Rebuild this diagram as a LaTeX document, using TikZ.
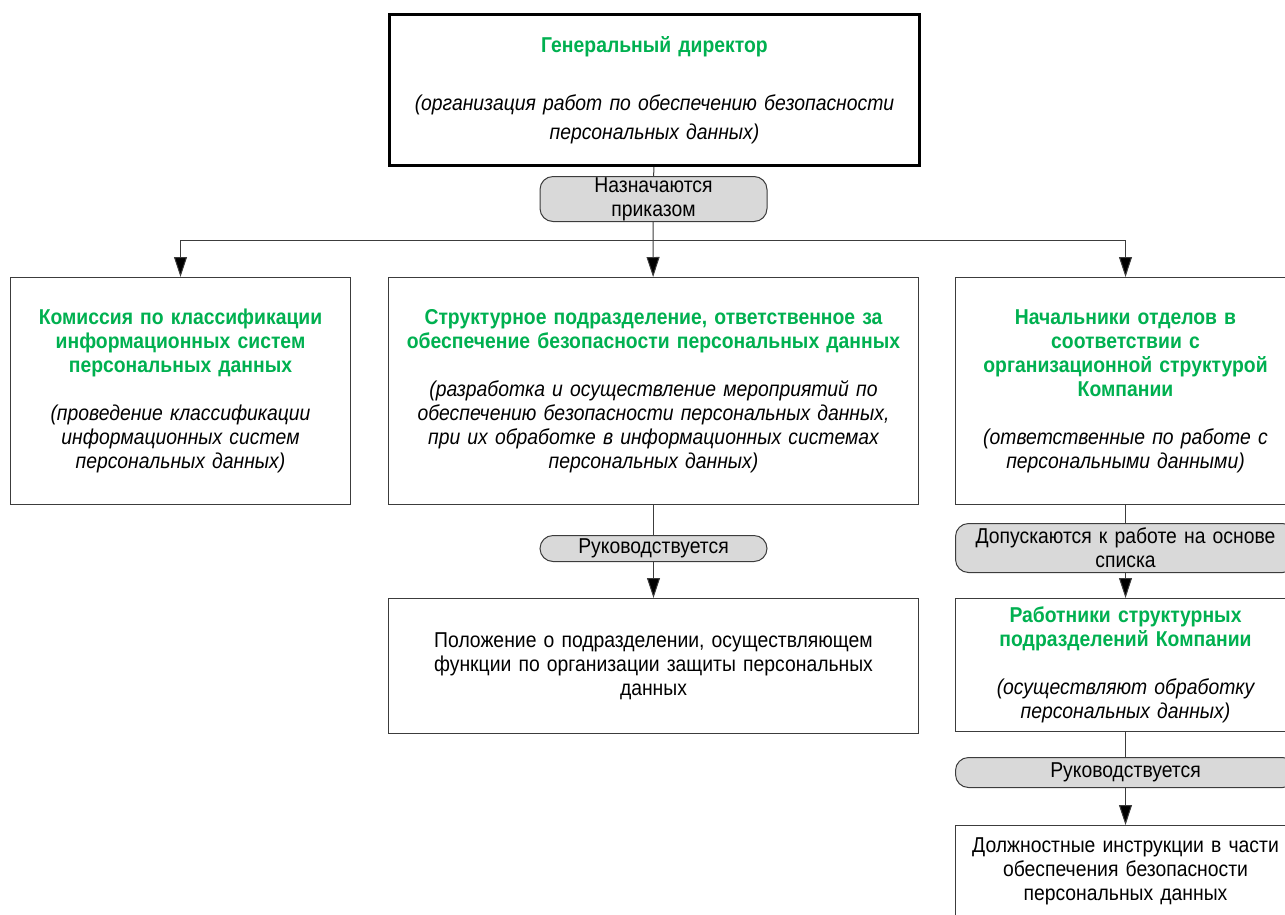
\documentclass[tikz,border=0pt]{standalone}
\usepackage{fontspec}
\setmainfont{Liberation Sans}[FakeStretch=0.9]
\usetikzlibrary{arrows.meta}

\newcommand*\lineheight{24pt}
\newcommand*\topheight{29pt}
\definecolor{headgreen}{RGB}{0,176,80}
\definecolor{pillgray}{RGB}{217,217,217}
\definecolor{framegray}{RGB}{60,60,60}
\newcommand*\head[1]{{\color{headgreen}\bfseries #1}}
\tikzset{unit/.style 2 args={
    draw=framegray,
    line width=1pt,
    rectangle,
    anchor=north west,
    inner xsep=4pt,
    inner ysep=0pt,
    text width={#1-8pt},
    minimum height=#2,
    align=center,
    font=\fontsize{21.5}{\lineheight}\selectfont
}}
\tikzset{tag/.style 2 args={
    unit={#1}{#2},
    fill=pillgray,
    rounded corners=13pt
}}
\tikzset{link/.style={line width=1pt, draw=framegray}}
\tikzset{feed/.style={link, -{Triangle[length=20pt,width=13pt,fill=black]}}}

\begin{document}
\begin{tikzpicture}[x=1pt,y=-1pt]
    \useasboundingbox (0,0) rectangle (1285,914);

    % Director on top.
    \node[unit={530pt}{151pt}, draw=black, line width=3pt,
          font=\fontsize{21.5}{\topheight}\selectfont] (gd) at (388,13)
        {\head{Генеральный директор}\\[\topheight]
         {\itshape (организация работ по обеспечению безопасности\\персональных данных)}};
    \node[tag={227pt}{45pt}] (order) at (539.5,176) {Назначаются\\приказом};
    \coordinate (bus) at (653,240);

    % Second row.
    \node[unit={340pt}{227pt}] (kom) at (10,277)
        {\head{Комиссия по классификации\\информационных систем\\персональных данных}\\[\lineheight]
         {\itshape (проведение классификации\\информационных систем\\персональных данных)}};
    \node[unit={530pt}{227pt}] (struct) at (388,277)
        {\head{Структурное подразделение, ответственное за\\обеспечение безопасности персональных данных}\\[\lineheight]
         {\itshape (разработка и осуществление мероприятий по\\обеспечению безопасности персональных данных,\\при их обработке в информационных системах\\персональных данных)}};
    \node[unit={340pt}{227pt}] (heads) at (955,277)
        {\head{Начальники отделов в\\соответствии с\\организационной структурой\\Компании}\\[\lineheight]
         {\itshape (ответственные по работе с\\персональными данными)}};

    % Middle column.
    \node[tag={227pt}{26pt}] (guide1) at (539.5,535) {Руководствуется};
    \node[unit={530pt}{135pt}] (polozh) at (388,598)
        {Положение о подразделении, осуществляющем\\функции по организации защиты персональных\\данных};

    % Right column.
    \node[tag={340pt}{49pt}] (admit) at (955,523) {Допускаются к работе на основе\\списка};
    \node[unit={340pt}{133pt}] (workers) at (955,598)
        {\head{Работники структурных\\подразделений Компании}\\[\lineheight]
         {\itshape (осуществляют обработку\\персональных данных)}};
    \node[tag={340pt}{30pt}] (guide2) at (955,757) {Руководствуется};
    \node[unit={340pt}{92pt}] (instr) at (955,825)
        {Должностные инструкции в части\\обеспечения безопасности\\персональных данных};

    % Connectors.
    \draw[link] (gd) -- (order);
    \draw[link] (order) -- (bus);
    \draw[feed] (bus) -| (kom);
    \draw[feed] (bus) -- (struct);
    \draw[feed] (bus) -| (heads);
    \draw[link] (struct) -- (guide1);
    \draw[feed] (guide1) -- (polozh);
    \draw[link] (heads) -- (admit);
    \draw[feed] (admit) -- (workers);
    \draw[link] (workers) -- (guide2);
    \draw[feed] (guide2) -- (instr);

\end{tikzpicture}
\end{document}
